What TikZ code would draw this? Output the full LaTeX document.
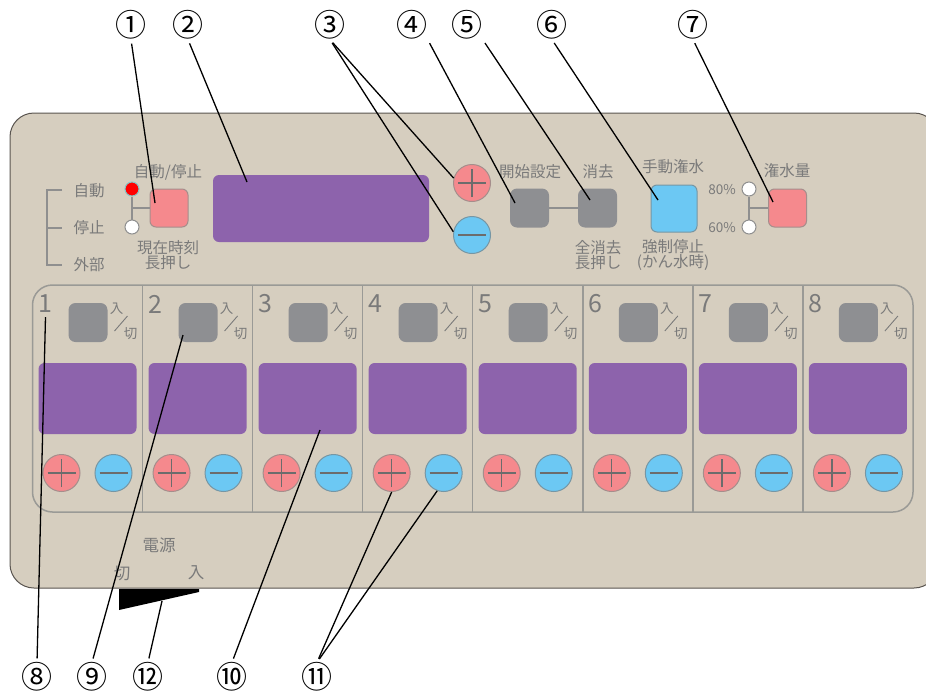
\documentclass[tikz,border=0pt]{standalone}
\usepackage{fontspec}
\setmainfont{Noto Sans CJK JP}
\usetikzlibrary{calc}
\definecolor{panelfill}{HTML}{D6CEBF}
\definecolor{paneledge}{HTML}{5A5550}
\definecolor{txtgray}{HTML}{7A7A7A}
\definecolor{dispurple}{HTML}{8D63AC}
\definecolor{pinkfill}{HTML}{F5898D}
\definecolor{pinkedge}{HTML}{A58E8C}
\definecolor{bluefill}{HTML}{6CC8F3}
\definecolor{blueedge}{HTML}{7696A4}
\definecolor{btngray}{HTML}{8E8F92}
\definecolor{linegray}{HTML}{8F8F8F}
\definecolor{chanedge}{HTML}{9A9A96}
\definecolor{signdark}{HTML}{6C6C6C}
\definecolor{ledred}{HTML}{FF0000}
\definecolor{ledrim}{HTML}{86C5C5}
\newcommand\myfs[1]{\fontsize{#1}{#1}\selectfont}
\begin{document}
\begin{tikzpicture}[x=1pt,y=-1pt,
  lbl/.style={text=txtgray, font=\myfs{15.5}, inner sep=0pt, align=center},
  smalllbl/.style={text=txtgray, font=\myfs{13.5}, inner sep=0pt},
  numlbl/.style={text=black, font=\myfs{31}, inner sep=0pt},
  chnumst/.style={text=txtgray, font=\myfs{25}, inner sep=0pt},
  chtxt/.style={text=txtgray, font=\myfs{13.5}, inner sep=0pt},
  leader/.style={draw=black, line width=1.3pt, shorten <=4pt},
  conn/.style={draw=linegray, line width=1.4pt},
  pinkbtn/.style={draw=pinkedge, fill=pinkfill, line width=1pt, rounded corners=6pt, minimum width=38pt, minimum height=38pt, inner sep=0pt},
  graybtn/.style={fill=btngray, rounded corners=7pt, minimum width=39pt, minimum height=39pt, inner sep=0pt},
  bluebtn/.style={draw=blueedge, fill=bluefill, line width=1pt, rounded corners=6pt, minimum width=46pt, minimum height=47pt, inner sep=0pt},
  dispbox/.style={fill=dispurple, rounded corners=6pt, inner sep=0pt},
  pluscirc/.style={circle, draw=pinkedge, fill=pinkfill, line width=1pt, minimum size=37pt, inner sep=0pt,
    path picture={\draw[signdark, line width=1.3pt]
      ([xshift=-14pt]path picture bounding box.center) -- ([xshift=14pt]path picture bounding box.center)
      ([yshift=-14pt]path picture bounding box.center) -- ([yshift=14pt]path picture bounding box.center);}},
  minuscirc/.style={circle, draw=blueedge, fill=bluefill, line width=1pt, minimum size=37pt, inner sep=0pt,
    path picture={\draw[signdark, line width=1.3pt]
      ([xshift=-14pt]path picture bounding box.center) -- ([xshift=14pt]path picture bounding box.center);}},
  ledon/.style={circle, fill=ledred, draw=ledrim, line width=1pt, minimum size=14pt, inner sep=0pt},
  ledoff/.style={circle, fill=white, draw=linegray, line width=1pt, minimum size=14pt, inner sep=0pt}
]
\useasboundingbox (0,0) rectangle (926,691);
\fill[white] (0,0) rectangle (926,691);

% main panel
\draw[paneledge, fill=panelfill, line width=1pt, rounded corners=24pt] (10,113) rectangle (938,588);

% ---- left mode selector
\node[lbl] (tAuto) at (89,191) {自動};
\node[lbl] (tStop) at (89,228) {停止};
\node[lbl] (tExt) at (89,265) {外部};
\draw[conn] (62,190) -- (47,190) -- (47,265) -- (62,265) (47,228) -- (62,228);
\node[ledon] (led1) at (132,189) {};
\node[ledoff] (off1) at (132,227) {};
\node[pinkbtn] (btn1) at (169,208) {};
\draw[conn] (led1) -- (off1);
\draw[conn] (led1 |- btn1.west) -- (btn1.west);
\node[lbl] (tAutoStop) at (168,172) {自動/停止};
\node[lbl] (tClock) at (168,255) {現在時刻\\長押し};

% ---- main display
\node[dispbox, minimum width=216pt, minimum height=67pt] (disp) at (321,208.5) {};

% ---- plus / minus
\node[pluscirc] (p3) at (472,183) {};
\node[minuscirc] (m3) at (472,235) {};

% ---- start / clear
\node[graybtn] (b4) at (529.5,208) {};
\node[graybtn] (b5) at (597.5,208) {};
\draw[conn] (b4.east) -- (b5.west);
\node[lbl] (tStart) at (530,172) {開始設定};
\node[lbl] (tClear) at (598,172) {消去};
\node[lbl] (tClearAll) at (598,255) {全消去\\長押し};

% ---- manual watering
\node[bluebtn] (b6) at (674,208.5) {};
\node[lbl] (tManual) at (673,167) {手動潅水};
\node[lbl] (tForce) at (673,255) {強制停止\\(かん水時)};

% ---- water amount
\node[ledoff] (c80) at (749,189) {};
\node[ledoff] (c60) at (749,227) {};
\node[pinkbtn] (b7) at (787.5,208) {};
\draw[conn] (c80) -- (c60);
\draw[conn] (c80 |- b7.west) -- (b7.west);
\node[smalllbl] (t80) at (722,190) {80\%};
\node[smalllbl] (t60) at (722,228) {60\%};
\node[lbl] (tAmount) at (787,171) {潅水量};

% ---- channel area
\draw[chanedge, line width=1.5pt, rounded corners=20pt] (32.5,285) rectangle (913,512);
\foreach \k in {1,...,7}{
  \draw[chanedge, line width=1.5pt] (32.5+\k*110.06,285) -- (32.5+\k*110.06,512);
}
\foreach \i in {1,...,8}{
  \pgfmathsetmacro\L{32.5+(\i-1)*110.06}
  \node[chnumst] (chnum\i) at (\L+13,304) {\i};
  \node[graybtn] (chbtn\i) at (\L+55.5,322.5) {};
  \node[chtxt] (chin\i) at (\L+84,309) {入};
  \node[chtxt] (chout\i) at (\L+98,334) {切};
  \draw[txtgray, line width=0.9pt] (\L+82,331) -- (\L+95,316);
  \node[dispbox, minimum width=98pt, minimum height=71pt] (chdisp\i) at (\L+55,398.5) {};
  \node[pluscirc] (chplus\i) at (\L+29,473) {};
  \node[minuscirc] (chminus\i) at (\L+81,473) {};
}

% ---- power switch
\node[lbl, font=\myfs{16.5}] (tPower) at (159,545) {電源};
\node[lbl, font=\myfs{16.5}] (tOff) at (122,573) {切};
\node[lbl, font=\myfs{16.5}] (tOn) at (196,573) {入};
\fill[black] (119,589) -- (199,589) -- (199,592) -- (119,610) -- cycle;

% ---- callout labels
\node[numlbl] (n1) at (131,25) {①};
\node[numlbl] (n2) at (188,25) {②};
\node[numlbl] (n3) at (330,25) {③};
\node[numlbl] (n4) at (412,25) {④};
\node[numlbl] (n5) at (467,25) {⑤};
\node[numlbl] (n6) at (552,25) {⑥};
\node[numlbl] (n7) at (693,25) {⑦};
\node[numlbl] (n8) at (37,677) {⑧};
\node[numlbl] (n9) at (92,677) {⑨};
\node[numlbl] (n12) at (148,677) {⑫};
\node[numlbl] (n10) at (232,677) {⑩};
\node[numlbl] (n11) at (317,677) {⑪};

% leader end points
\coordinate (e1) at (155,203);
\coordinate (e2) at (247,182);
\coordinate (e4) at (515,203);
\coordinate (e5) at (590,200);
\coordinate (e6) at (658,200);
\coordinate (e7) at (773,202);
\coordinate (e9) at (183,335);
\coordinate (e10) at (320,430);
\coordinate (e12) at (162,601);

\draw[leader] (n1.south) -- (e1);
\draw[leader] (n2.south) -- (e2);
\draw[leader] (n3.south) -- (p3.165);
\draw[leader] (n3.south) -- (m3.170);
\draw[leader] (n4.south east) -- (e4);
\draw[leader] (n5.south east) -- (e5);
\draw[leader] (n6.south) -- (e6);
\draw[leader] (n7.south) -- (e7);
\draw[leader] (n8.north) -- ([yshift=-4pt]chnum1.south);
\draw[leader] (n9.north) -- (e9);
\draw[leader] (n12.north) -- (e12);
\draw[leader] (n10.north) -- (e10);
\draw[leader] (n11.north) -- (chplus4.south);
\draw[leader] (n11.north) -- (chminus4.-110);
\end{tikzpicture}
\end{document}
